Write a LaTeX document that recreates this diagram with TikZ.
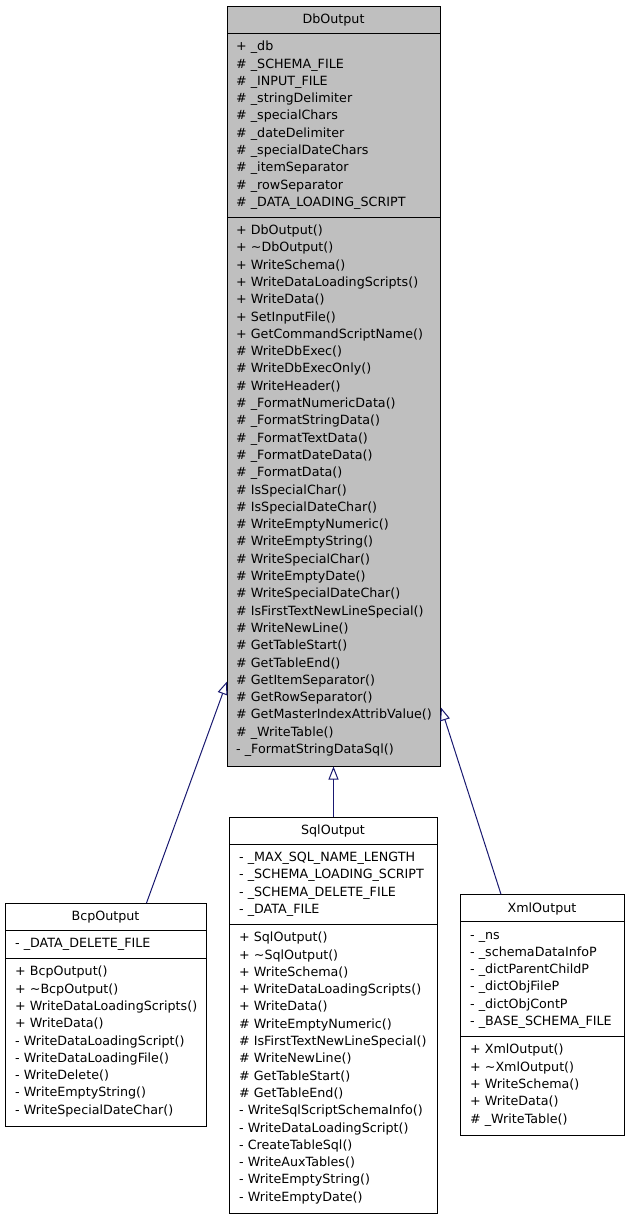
\documentclass[tikz,border=0pt]{standalone}
\usepackage{fontspec}
\setmainfont{DejaVu Sans}
\usetikzlibrary{positioning, calc, arrows.meta}
\definecolor{edgeblue}{HTML}{191970}
\definecolor{basegray}{HTML}{BFBFBF}
\newcommand{\membfont}{\fontsize{12.7}{15}\selectfont}

\begin{document}
\begin{tikzpicture}[x=1pt,y=1pt,yscale=-1,
    classbox/.style={draw=black, line width=1pt, inner sep=0pt, anchor=north west},
    classname/.style={anchor=base, inner sep=0pt, font=\membfont},
    member/.style={anchor=base west, inner sep=0pt, font=\membfont},
    divider/.style={draw=black, line width=1pt},
    inherit/.style={draw=edgeblue, line width=1pt, -{Triangle[open, length=13pt, width=10pt]}}]
\useasboundingbox (0,0) rectangle (629,1219);

%Class: DbOutput
\node[classbox, fill=basegray, minimum width=213, minimum height=759.5] (dbout) at (227,6) {};
\draw[divider] ($(dbout.north west)+(0,27.5)$) -- ($(dbout.north east)+(0,27.5)$);
\draw[divider] ($(dbout.north west)+(0,211.5)$) -- ($(dbout.north east)+(0,211.5)$);
\node[classname] (dbname) at (333.5,23.5) {DbOutput};
\foreach \m [count=\i from 0] in {+ \_db, \# \_SCHEMA\_FILE, \# \_INPUT\_FILE, \# \_stringDelimiter, \# \_specialChars, \# \_dateDelimiter, \# \_specialDateChars, \# \_itemSeparator, \# \_rowSeparator, \# \_DATA\_LOADING\_SCRIPT}
  \node[member] (dba\i) at (236,{50.7+17.3*\i}) {\m};
\foreach \m [count=\i from 0] in {+ DbOutput(), + \textasciitilde DbOutput(), + WriteSchema(), + WriteDataLoadingScripts(), + WriteData(), + SetInputFile(), + GetCommandScriptName(), \# WriteDbExec(), \# WriteDbExecOnly(), \# WriteHeader(), \# \_FormatNumericData(), \# \_FormatStringData(), \# \_FormatTextData(), \# \_FormatDateData(), \# \_FormatData(), \# IsSpecialChar(), \# IsSpecialDateChar(), \# WriteEmptyNumeric(), \# WriteEmptyString(), \# WriteSpecialChar(), \# WriteEmptyDate(), \# WriteSpecialDateChar(), \# IsFirstTextNewLineSpecial(), \# WriteNewLine(), \# GetTableStart(), \# GetTableEnd(), \# GetItemSeparator(), \# GetRowSeparator(), \# GetMasterIndexAttribValue(), \# \_WriteTable(), - \_FormatStringDataSql()}
  \node[member] (dbm\i) at (236,{234.5+17.3*\i}) {\m};

%Class: SqlOutput
\node[classbox, minimum width=208, minimum height=395.5] (sqlout) at (229,817) {};
\draw[divider] ($(sqlout.north west)+(0,27.5)$) -- ($(sqlout.north east)+(0,27.5)$);
\draw[divider] ($(sqlout.north west)+(0,107.7)$) -- ($(sqlout.north east)+(0,107.7)$);
\node[classname] (sqlname) at (333,834.5) {SqlOutput};
\foreach \m [count=\i from 0] in {- \_MAX\_SQL\_NAME\_LENGTH, - \_SCHEMA\_LOADING\_SCRIPT, - \_SCHEMA\_DELETE\_FILE, - \_DATA\_FILE}
  \node[member] (sqla\i) at (239,{861.5+17.3*\i}) {\m};
\foreach \m [count=\i from 0] in {+ SqlOutput(), + \textasciitilde SqlOutput(), + WriteSchema(), + WriteDataLoadingScripts(), + WriteData(), \# WriteEmptyNumeric(), \# IsFirstTextNewLineSpecial(), \# WriteNewLine(), \# GetTableStart(), \# GetTableEnd(), - WriteSqlScriptSchemaInfo(), - WriteDataLoadingScript(), - CreateTableSql(), - WriteAuxTables(), - WriteEmptyString(), - WriteEmptyDate()}
  \node[member] (sqlm\i) at (239,{941.7+17.3*\i}) {\m};

%Class: BcpOutput
\node[classbox, minimum width=201, minimum height=222.5] (bcpout) at (5,903) {};
\draw[divider] ($(bcpout.north west)+(0,27.5)$) -- ($(bcpout.north east)+(0,27.5)$);
\draw[divider] ($(bcpout.north west)+(0,55.8)$) -- ($(bcpout.north east)+(0,55.8)$);
\node[classname] (bcpname) at (105.5,920.5) {BcpOutput};
\foreach \m [count=\i from 0] in {- \_DATA\_DELETE\_FILE}
  \node[member] (bcpa\i) at (15,{947.5+17.3*\i}) {\m};
\foreach \m [count=\i from 0] in {+ BcpOutput(), + \textasciitilde BcpOutput(), + WriteDataLoadingScripts(), + WriteData(), - WriteDataLoadingScript(), - WriteDataLoadingFile(), - WriteDelete(), - WriteEmptyString(), - WriteSpecialDateChar()}
  \node[member] (bcpm\i) at (15,{975.8+17.3*\i}) {\m};

%Class: XmlOutput
\node[classbox, minimum width=164, minimum height=240.5] (xmlout) at (460,894.3) {};
\draw[divider] ($(xmlout.north west)+(0,27.5)$) -- ($(xmlout.north east)+(0,27.5)$);
\draw[divider] ($(xmlout.north west)+(0,142.3)$) -- ($(xmlout.north east)+(0,142.3)$);
\node[classname] (xmlname) at (542,912) {XmlOutput};
\foreach \m [count=\i from 0] in {- \_ns, - \_schemaDataInfoP, - \_dictParentChildP, - \_dictObjFileP, - \_dictObjContP, - \_BASE\_SCHEMA\_FILE}
  \node[member] (xmla\i) at (470,{939+17.3*\i}) {\m};
\foreach \m [count=\i from 0] in {+ XmlOutput(), + \textasciitilde XmlOutput(), + WriteSchema(), + WriteData(), \# \_WriteTable()}
  \node[member] (xmlm\i) at (470,{1053.8+17.3*\i}) {\m};

%Inheritance
\draw[inherit] ($(bcpout.north west)+(141.5,0)$) -- ($(dbout.south west)+(0,-85)$);
\draw[inherit] (sqlout.north) -- (sqlout.north |- dbout.south);
\draw[inherit] ($(xmlout.north west)+(41,0)$) -- ($(dbout.south east)+(0,-59)$);
\end{tikzpicture}
\end{document}
